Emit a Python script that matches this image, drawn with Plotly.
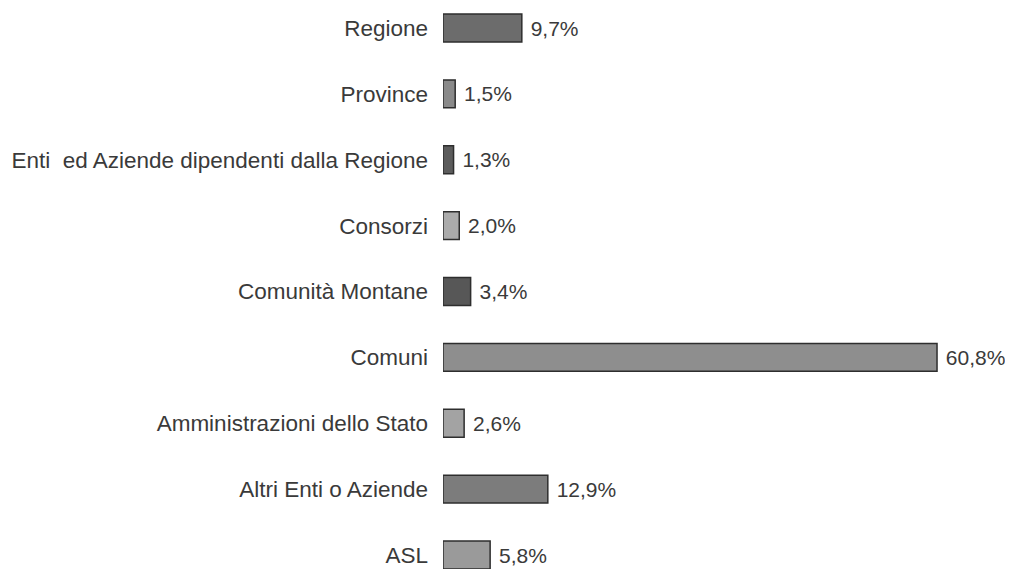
"""Distribuzione percentuale per tipo di ente - barre orizzontali."""

import plotly.graph_objects as go

categories = [
    "Regione",
    "Province",
    "Enti  ed Aziende dipendenti dalla Regione",
    "Consorzi",
    "Comunità Montane",
    "Comuni",
    "Amministrazioni dello Stato",
    "Altri Enti o Aziende",
    "ASL",
]
shares = [9.7, 1.5, 1.3, 2.0, 3.4, 60.8, 2.6, 12.9, 5.8]
bar_colors = [
    "#6c6c6c", "#8a8a8a", "#5c5c5c", "#ababab", "#575757",
    "#8e8e8e", "#a3a3a3", "#7c7c7c", "#9a9a9a",
]

FONT = "Liberation Sans, Arial, sans-serif"

fig = go.Figure()
fig.add_trace(
    go.Bar(
        x=shares,
        y=categories,
        orientation="h",
        marker=dict(color=bar_colors, line=dict(color="#2e2e2e", width=1.5)),
        texttemplate="\u00a0%{x:.1f}%",
        textposition="outside",
        textfont=dict(family=FONT, size=21, color="#3a3a3a"),
        cliponaxis=False,
        hoverinfo="skip",
    )
)

# page has an 8px body margin, so the figure is sized to the remaining area
fig.update_layout(
    width=1005,
    height=561,
    margin=dict(l=435, r=0, t=0, b=0, autoexpand=False),
    paper_bgcolor="white",
    plot_bgcolor="white",
    separators=",.",
    bargap=0.575,
    showlegend=False,
    font=dict(family=FONT, size=22.5, color="#3a3a3a"),
)
fig.update_xaxes(
    range=[0, 70.15],
    showgrid=False,
    zeroline=False,
    showticklabels=False,
    showline=False,
    automargin=False,
)
fig.update_yaxes(
    type="category",
    range=[8.2125, -0.3036],
    showgrid=False,
    zeroline=False,
    showline=False,
    ticks="",
    automargin=False,
    ticklabelstandoff=14,
    tickfont=dict(family=FONT, size=22.5, color="#3a3a3a"),
)

fig.write_html("out.html")
